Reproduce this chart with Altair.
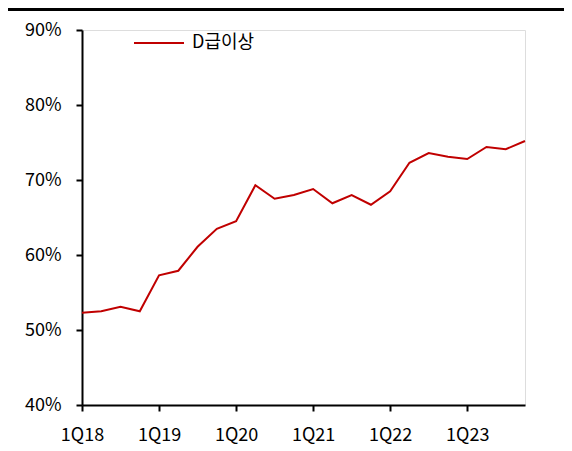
import altair as alt
import pandas as pd

quarters = [f"{q}Q{y}" for y in range(18, 24) for q in range(1, 5)]
values = [52.3, 52.5, 53.1, 52.5, 57.3, 57.9, 61.1, 63.5,
          64.5, 69.3, 67.5, 68.0, 68.8, 66.9, 68.0, 66.7,
          68.5, 72.3, 73.6, 73.1, 72.8, 74.4, 74.1, 75.2]
tick_labels = ["1Q18", "1Q19", "1Q20", "1Q21", "1Q22", "1Q23"]
series_name = "D급이상"

df = pd.DataFrame({"quarter": quarters, "value": [v / 100 for v in values], "series": series_name})

FONT = "Noto Sans CJK KR"

line = alt.Chart(df).mark_line(strokeWidth=2).encode(
    x=alt.X("quarter:O", sort=quarters,
            scale=alt.Scale(type="point", padding=0),
            axis=alt.Axis(values=tick_labels, labelAngle=0, title=None,
                          domainColor="black", domainWidth=2, tickColor="black",
                          tickWidth=2, tickSize=6, labelPadding=15,
                          labelFontSize=18, labelColor="black", labelFont=FONT)),
    y=alt.Y("value:Q",
            scale=alt.Scale(domain=[0.4, 0.9], nice=False, zero=False),
            axis=alt.Axis(values=[0.4, 0.5, 0.6, 0.7, 0.8, 0.9], format=".0%", title=None,
                          grid=False, domainColor="black", domainWidth=2, tickColor="black",
                          tickWidth=2, tickSize=6, labelPadding=15,
                          labelFontSize=18, labelColor="black", labelFont=FONT)),
    color=alt.Color("series:N", scale=alt.Scale(range=["#C00000"]),
                    legend=alt.Legend(title=None, orient="none", legendX=51, legendY=-13,
                                      symbolType="stroke", symbolSize=2500, symbolStrokeWidth=2,
                                      labelFontSize=18, labelFont=FONT, labelColor="black",
                                      labelOffset=7)),
)

top_rule = alt.Chart(df.head(1)).mark_rule(color="black", strokeWidth=3).encode(
    x=alt.value(-80), x2=alt.value(500), y=alt.value(-20.5)
)

chart = alt.layer(top_rule, line).properties(
    width=443, height=375,
    padding={"left": 74, "top": 22, "right": 39, "bottom": 42},
    autosize=alt.AutoSizeParams(type="none"),
).configure_view(stroke=None).configure(font=FONT)

chart.save("out.html", embed_options={"renderer": "svg", "actions": False})
